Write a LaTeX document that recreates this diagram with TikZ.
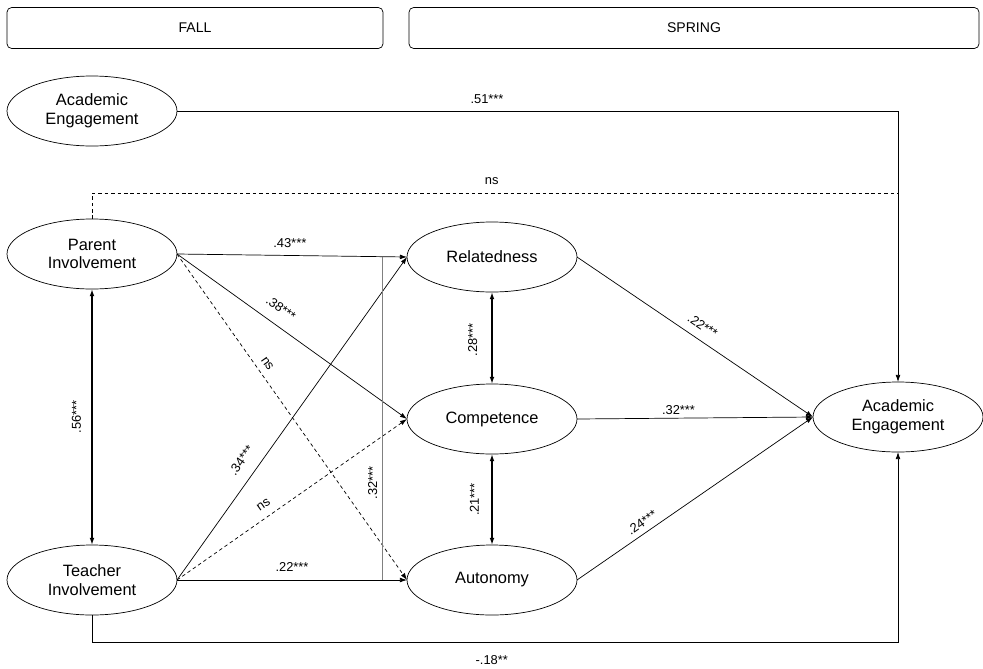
\documentclass[tikz,border=0pt]{standalone}
\usepackage{fontspec}
\setmainfont{Liberation Sans}
\usetikzlibrary{arrows.meta,shapes.geometric}

\begin{document}
\begin{tikzpicture}[x=0.03cm, y=-0.03cm,
    latent/.style={draw, ellipse, line width=0.6pt, minimum width=5.1cm, minimum height=2.1cm,
      inner sep=0pt, outer sep=0pt, align=center, font=\fontsize{14}{16}\selectfont},
    period/.style={draw, rounded corners=4pt, line width=0.6pt, minimum height=1.23cm,
      inner sep=0pt, font=\fontsize{12}{14}\selectfont},
    arr/.style={line width=0.6pt, -{Latex[length=6pt,width=4pt]}},
    corr/.style={line width=1.3pt, {Latex[length=6pt,width=4pt]}-{Latex[length=6pt,width=4pt]}},
    nsline/.style={line width=0.6pt, dash pattern=on 3pt off 2.5pt},
    coef/.style={font=\fontsize{11}{13}\selectfont, inner sep=1pt}]

      \useasboundingbox (0,0) rectangle (983,668);

      \node[period, minimum width=11.28cm] (fall) at (195,28) {FALL};
      \node[period, minimum width=17.1cm] (spring) at (694,28) {SPRING};

      \node[latent] (AEfall) at (92,111) {Academic\\Engagement};
      \node[latent] (PI) at (92,254) {Parent\\Involvement};
      \node[latent] (TI) at (92,580) {Teacher\\Involvement};
      \node[latent] (Rel) at (492,257) {Relatedness};
      \node[latent] (Comp) at (492,419) {Competence};
      \node[latent] (Aut) at (492,580) {Autonomy};
      \node[latent] (AEspring) at (898,417) {Academic\\Engagement};

      \coordinate (nsend) at (898,193);

      \draw[arr] (AEfall.east) -| (AEspring.north) node[coef, pos=0.215, above=5pt] {.51***};
      \draw[nsline] (PI.north) |- (nsend) node[coef, pos=0.748, above=6pt] {ns};

      \draw[arr] (PI.east) -- (Rel.west) node[coef, pos=0.49, sloped, above=5.5pt] {.43***};
      \draw[arr] (PI.east) -- (Comp.west) node[coef, pos=0.41, sloped, above=9pt] {.38***};
      \draw[arr, nsline] (PI.east) -- (Aut.west) node[coef, pos=0.355, sloped, above=4.7pt] {ns};
      \draw[arr] (TI.east) -- (Rel.west) node[coef, pos=0.34, sloped, above=9.4pt] {.34***};
      \draw[arr, nsline] (TI.east) -- (Comp.west) node[coef, pos=0.406, sloped, above=5.8pt] {ns};
      \draw[arr] (TI.east) -- (Aut.west) node[coef, pos=0.5, sloped, above=6pt] {.22***};

      \path (PI.east) -- (Rel.west) coordinate[pos=0.892] (gtop);
      \path (TI.east) -- (Aut.west) coordinate[pos=0.892] (gbot);
      \draw[gray, line width=0.8pt] (gbot) -- (gtop) node[coef, black, pos=0.3, sloped, above=2.7pt] {.32***};

      \draw[corr] (TI.north) -- (PI.south) node[coef, midway, sloped, above=7.8pt] {.56***};
      \draw[corr] (Comp.north) -- (Rel.south) node[coef, pos=0.48, sloped, above=11pt] {.28***};
      \draw[corr] (Aut.north) -- (Comp.south) node[coef, midway, sloped, above=9.5pt] {.21***};

      \draw[arr] (Rel.east) -- (AEspring.west) node[coef, pos=0.5, sloped, above=6.6pt] {.22***};
      \draw[arr] (Comp.east) -- (AEspring.west) node[coef, pos=0.43, above=1.8pt] {.32***};
      \draw[arr] (Aut.east) -- (AEspring.west) node[coef, pos=0.3, sloped, above=3.7pt] {.24***};

      \draw[arr] (TI.south) -- ++(0,27) -| (AEspring.south) node[coef, pos=0.248, below=10pt] {-.18**};

    \end{tikzpicture}
\end{document}
